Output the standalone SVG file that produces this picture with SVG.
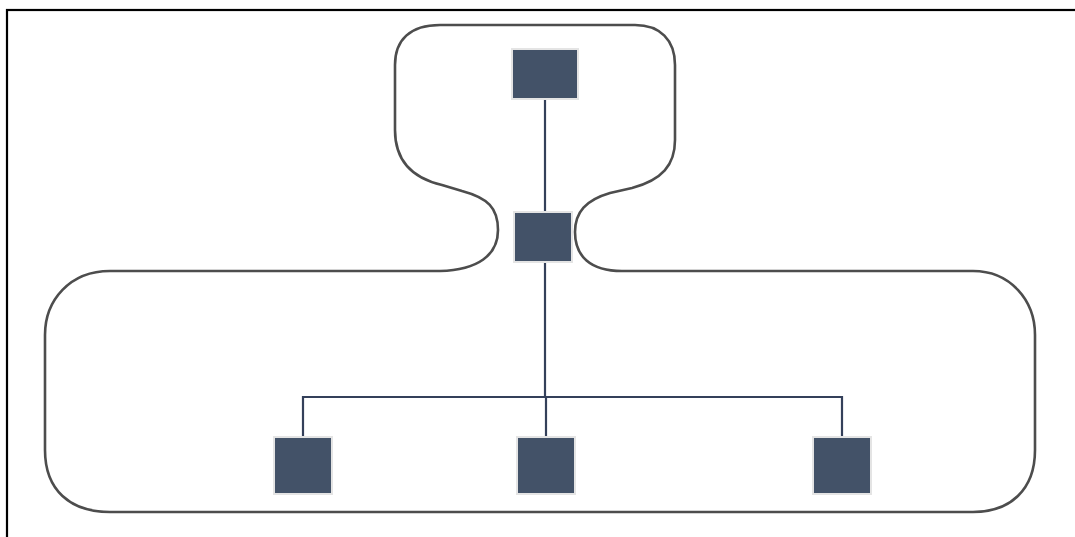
<svg xmlns="http://www.w3.org/2000/svg" width="1075" height="537" viewBox="0 0 1075 537">
<style>
.node{fill:#435268;stroke:#e4e4e4;stroke-width:2}
.conn{fill:none;stroke:#34405a;stroke-width:2.2}
.outline{fill:none;stroke:#4d4d4d;stroke-width:2.6;stroke-linejoin:round}
</style>
<rect width="1075" height="537" fill="#ffffff"/>
<rect x="7" y="10" width="1200" height="700" fill="none" stroke="#000" stroke-width="2.2"/>
<g id="outline">
<path class="outline" d="M110,271 H440 C478,270 498,255 498,230 C498,208 488,198 462,191 L442,185 C412,178 395,160 395,130 V65 C395,40 410,25 440,25 H635 C660,25 675,40 675,65 V140 C675,165 662,180 632,188 L610,193 C586,200 575,212 575,232 C575,256 590,271 622,271 H973 C1010,271 1035,300 1035,335 V450 C1035,490 1010,512 973,512 H110 C70,512 45,490 45,450 V335 C45,300 70,271 110,271 Z"/>
</g>
<g id="connectors">
<line class="conn" x1="545" y1="100" x2="545" y2="211"/>
<polyline class="conn" points="545,263 545,397"/>
<polyline class="conn" points="303,436 303,397 842,397 842,436"/>
<line class="conn" x1="546" y1="397" x2="546" y2="436"/>
</g>
<g id="n-top"><rect class="node" x="512" y="49" width="66" height="50"/></g>
<g id="n-mid"><rect class="node" x="514" y="212" width="58" height="50"/></g>
<g id="n-left"><rect class="node" x="274" y="437" width="58" height="57"/></g>
<g id="n-center"><rect class="node" x="517" y="437" width="58" height="57"/></g>
<g id="n-right"><rect class="node" x="813" y="437" width="58" height="57"/></g>
</svg>
